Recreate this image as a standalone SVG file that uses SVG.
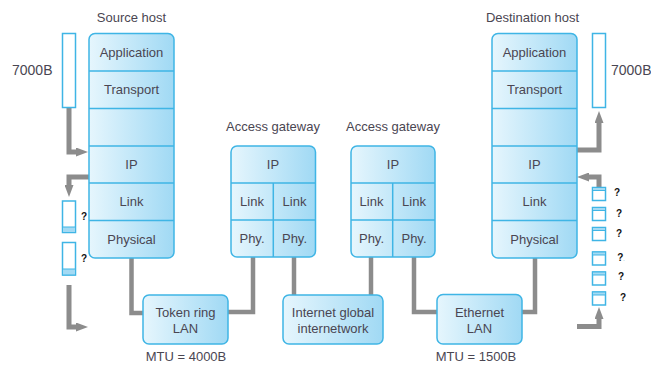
<svg xmlns="http://www.w3.org/2000/svg" width="651" height="365" viewBox="0 0 651 365">
<defs>
<linearGradient id="g" x1="0" y1="0" x2="1" y2="0">
<stop offset="0" stop-color="#e6f6fd"/>
<stop offset="1" stop-color="#a0d9f4"/>
</linearGradient>
<marker id="ah" markerUnits="userSpaceOnUse" markerWidth="12" markerHeight="9" viewBox="0 -4.5 12 9" refX="0" refY="0" orient="auto">
<path d="M0,-4.5 L12,0 L0,4.5 z" fill="#8c8c8c"/>
</marker>
</defs>
<style>
.box{fill:url(#g);stroke:#3fb5e5;stroke-width:1.5}
.div{stroke:#3fb5e5;stroke-width:1.5;fill:none}
.buf{fill:#fff;stroke:#3fb5e5;stroke-width:1.5}
.band{fill:#a3daf4;stroke:#3fb5e5;stroke-width:1}
.t{font-family:"Liberation Sans",Arial,sans-serif;font-size:13px;fill:#4a4652;text-anchor:middle}
.lbl{font-family:"Liberation Sans",Arial,sans-serif;font-size:14px;fill:#4a4652}
.q{font-family:"Liberation Sans",Arial,sans-serif;font-size:10px;font-weight:bold;fill:#111;text-anchor:middle}
.c{fill:none;stroke:#8c8c8c;stroke-width:4.5}
.a{fill:none;stroke:#8c8c8c;stroke-width:5;marker-end:url(#ah)}
</style>

<g id="connectors">
<path class="a" d="M69,108 V152 H76"/>
<path class="a" d="M131,108.5 V131"/>
<path class="a" d="M89,177 H69 V185"/>
<path class="a" d="M69,285 V327 H76"/>
<path class="c" d="M131.5,258 V313 H143"/>
<path class="c" d="M228,312 H253 V257"/>
<path class="c" d="M294,257 V295"/>
<path class="c" d="M371,257 V295"/>
<path class="c" d="M414,257 V312 H437"/>
<path class="c" d="M522,312 H535 V258"/>
<path class="a" d="M534,146 V122"/>
<path class="a" d="M577,150 H599 V123"/>
<path class="a" d="M599,187.5 V177 H589"/>
<path class="a" d="M577,326.5 H599 V319"/>
</g>

<g id="source-host">
<text class="t" x="131.5" y="22">Source host</text>
<rect class="box" x="89" y="33.5" width="85" height="224.5" rx="6"/>
<path class="div" d="M89,71 H174 M89,108.5 H174 M89,146 H174 M89,183 H174 M89,220.5 H174"/>
<text class="t" x="131.5" y="57">Application</text>
<text class="t" x="131.5" y="94">Transport</text>
<text class="t" x="131.5" y="169">IP</text>
<text class="t" x="131.5" y="206">Link</text>
<text class="t" x="131.5" y="244">Physical</text>
</g>

<g id="source-buffers">
<text class="lbl" x="12" y="74.5">7000B</text>
<rect class="buf" x="62.5" y="33.5" width="13" height="74"/>
<rect class="buf" x="62.5" y="201" width="13" height="31.5"/>
<rect class="band" x="62.5" y="227" width="13" height="5.5"/>
<text class="q" x="84" y="219.5">?</text>
<rect class="buf" x="62.5" y="242.5" width="13" height="32.5"/>
<rect class="band" x="62.5" y="269" width="13" height="6"/>
<text class="q" x="84" y="262">?</text>
</g>

<g id="gateway1">
<text class="t" x="273" y="131">Access gateway</text>
<rect class="box" x="231" y="146" width="84.5" height="111" rx="6"/>
<path class="div" d="M231,183 H315.5 M231,220 H315.5 M273.3,183 V257"/>
<text class="t" x="273" y="169">IP</text>
<text class="t" x="252" y="206">Link</text>
<text class="t" x="294.5" y="206">Link</text>
<text class="t" x="252" y="243">Phy.</text>
<text class="t" x="294.5" y="243">Phy.</text>
</g>

<g id="gateway2">
<text class="t" x="393" y="131">Access gateway</text>
<rect class="box" x="351" y="146" width="84" height="111" rx="6"/>
<path class="div" d="M351,183 H435 M351,220 H435 M392.7,183 V257"/>
<text class="t" x="393" y="169">IP</text>
<text class="t" x="371.5" y="206">Link</text>
<text class="t" x="414" y="206">Link</text>
<text class="t" x="371.5" y="243">Phy.</text>
<text class="t" x="414" y="243">Phy.</text>
</g>

<g id="token-ring">
<rect class="box" x="143" y="295" width="85" height="49" rx="6"/>
<text class="t" x="185.5" y="316.5">Token ring</text>
<text class="t" x="185.5" y="333">LAN</text>
<text class="t" x="186" y="361">MTU = 4000B</text>
</g>

<g id="internet">
<rect class="box" x="283" y="295" width="100" height="49" rx="6"/>
<text class="t" x="333" y="316.5">Internet global</text>
<text class="t" x="333" y="333">internetwork</text>
</g>

<g id="ethernet">
<rect class="box" x="437" y="294.5" width="85" height="49.5" rx="6"/>
<text class="t" x="479.5" y="316.5">Ethernet</text>
<text class="t" x="479.5" y="333">LAN</text>
<text class="t" x="476" y="361">MTU = 1500B</text>
</g>

<g id="destination-host">
<text class="t" x="532.5" y="22">Destination host</text>
<rect class="box" x="492" y="33.5" width="85" height="224.5" rx="6"/>
<path class="div" d="M492,71 H577 M492,108.5 H577 M492,146 H577 M492,183 H577 M492,220.5 H577"/>
<text class="t" x="534.5" y="57">Application</text>
<text class="t" x="534.5" y="94">Transport</text>
<text class="t" x="534.5" y="169">IP</text>
<text class="t" x="534.5" y="206">Link</text>
<text class="t" x="534.5" y="244">Physical</text>
</g>

<g id="destination-buffers">
<rect class="buf" x="592.5" y="33.5" width="13" height="74"/>
<text class="lbl" x="611" y="74.5">7000B</text>
<rect class="buf" x="592.5" y="187.5" width="13" height="13"/>
<rect class="band" x="592.5" y="187.5" width="13" height="3"/>
<rect class="buf" x="592.5" y="207.5" width="13" height="13"/>
<rect class="band" x="592.5" y="207.5" width="13" height="3"/>
<rect class="buf" x="592.5" y="227.5" width="13" height="13"/>
<rect class="band" x="592.5" y="227.5" width="13" height="3"/>
<rect class="buf" x="592.5" y="252" width="13" height="13"/>
<rect class="band" x="592.5" y="252" width="13" height="3"/>
<rect class="buf" x="592.5" y="272" width="13" height="13"/>
<rect class="band" x="592.5" y="272" width="13" height="3"/>
<rect class="buf" x="592.5" y="292" width="13" height="13"/>
<rect class="band" x="592.5" y="292" width="13" height="3"/>
<text class="q" x="617" y="195.5">?</text>
<text class="q" x="619" y="217">?</text>
<text class="q" x="619" y="237">?</text>
<text class="q" x="621" y="261">?<tspan font-size="5" fill="#3a8a9a" font-weight="normal">.</tspan></text>
<text class="q" x="621" y="279.5">?</text>
<text class="q" x="623" y="301">?</text>
</g>
</svg>
